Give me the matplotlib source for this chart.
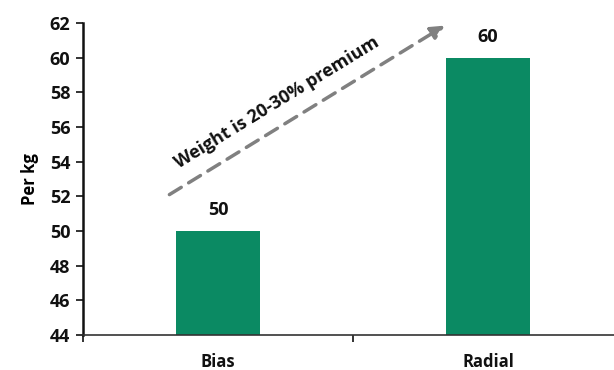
import numpy as np
import matplotlib as mpl
import matplotlib.pyplot as plt

plt.rcParams['font.family'] = ['Open Sans', 'DejaVu Sans']
plt.rcParams['font.weight'] = 'bold'

categories = ['Bias', 'Radial']
price_per_kg = [50, 60]
y_ticks = [44, 46, 48, 50, 52, 54, 56, 58, 60, 62]
note = 'Weight is 20-30% premium'

bar_color = '#0B8A63'
arrow_color = '#808080'

fig = plt.figure(figsize=(6.14, 3.70), dpi=100)
# axes box in pixels: left 83, bottom 35, top 23 from top edge
ax = fig.add_axes([83 / 614, 35 / 370, (614 - 83) / 614, (335 - 23) / 370])

x = np.arange(len(categories))
ax.bar(x, [v - y_ticks[0] for v in price_per_kg], bottom=y_ticks[0],
       width=0.31, color=bar_color, zorder=2)

for xi, v in zip(x, price_per_kg):
    ax.text(xi, v + 0.7, f'{v}', ha='center', va='bottom',
            fontsize=13, fontweight='bold', color='#111111')

ax.set_ylim(y_ticks[0], y_ticks[-1])
ax.set_xlim(-0.5, (614 - 83) / 270 - 0.5)
ax.set_yticks(y_ticks)
ax.tick_params(axis='y', direction='out', length=5, width=1.2,
               labelsize=13, pad=4, colors='#111111')

# boundaries between categories get ticks, names sit in the middle
ax.set_xticks([-0.5, 0.5])
ax.set_xticklabels([])
ax.tick_params(axis='x', direction='out', length=5, width=1.2, color='#111111')
for xi, name in zip(x, categories):
    ax.text(xi, -0.085, name, transform=ax.get_xaxis_transform(),
            ha='center', va='center', fontsize=12, fontweight='bold',
            color='#111111')

for s in ['top', 'right']:
    ax.spines[s].set_visible(False)
ax.spines['left'].set_linewidth(1.8)
ax.spines['left'].set_color('#111111')
ax.spines['bottom'].set_linewidth(1.2)
ax.spines['bottom'].set_color('#333333')

ax.set_ylabel('Per kg', fontsize=12, fontweight='bold', labelpad=8)

# dashed arrow showing the premium
ax.annotate('', xy=(0.84, 61.85), xytext=(-0.18, 52.1),
            arrowprops=dict(arrowstyle='-|>,head_length=0.8,head_width=0.4',
                            color=arrow_color, lw=2.5, linestyle=(0, (4, 2.5)),
                            shrinkA=0, shrinkB=0))
ax.text(0.22, 57.4, note, rotation=31.5, rotation_mode='anchor',
        ha='center', va='center', fontsize=13, fontweight='bold',
        color='#111111')

fig.savefig('out.png', dpi=100)
